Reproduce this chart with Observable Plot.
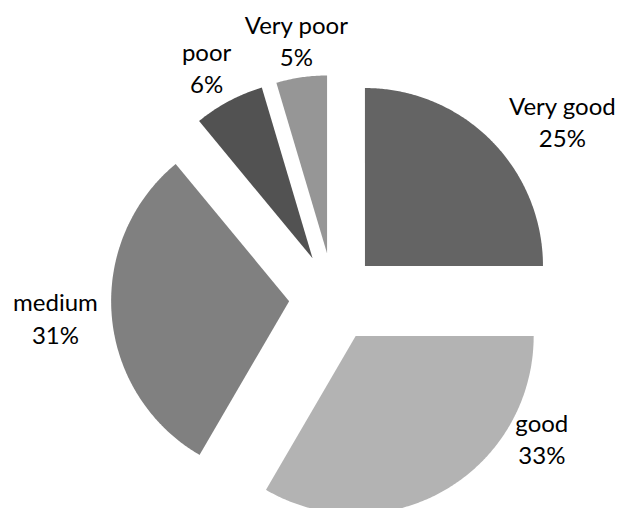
<!DOCTYPE html>
<html>
<head>
<meta charset="utf-8">
<script src="https://cdn.jsdelivr.net/npm/d3@7"></script>
<script src="https://cdn.jsdelivr.net/npm/@observablehq/plot@0.6"></script>
<style>
  html, body { margin: 0; padding: 0; background: #fff; }
</style>
</head>
<body>
<div id="chart"></div>
<script>
// ---- data ----
const categories = ["Very good", "good", "medium", "poor", "Very poor"];
const shares = [25, 33.4, 30.6, 6.4, 4.6];   // percent of total
const colors = ["#646464", "#b3b3b3", "#808080", "#525252", "#969696"];

// ---- layout (not data) ----
const W = 618, H = 508, R = 178;       // pixels per unit radius
const CX = 333, CY = 297;              // pie centre in px
const EXPLODE = 0.25;                  // explode distance, in radii
// label anchor: [angle deg clockwise from top, distance in radii]
const labelPolar = [[52.3, 1.625], [123.9, 1.41], [266, 1.566], [331.2, 1.48], [351.8, 1.464]];

const total = d3.sum(shares);
const toRad = Math.PI / 180;
let acc = 0;
const slices = categories.map((name, i) => {
  const a0 = acc / total * 360;
  acc += shares[i];
  const a1 = acc / total * 360;
  return {name, i, a0, a1, mid: (a0 + a1) / 2};
});

const pts = [];
for (const s of slices) {
  const ox = EXPLODE * Math.sin(s.mid * toRad), oy = EXPLODE * Math.cos(s.mid * toRad);
  pts.push({name: s.name, x: ox, y: oy});
  const n = Math.max(4, Math.ceil((s.a1 - s.a0) / 0.5));
  for (let k = 0; k <= n; k++) {
    const a = (s.a0 + (s.a1 - s.a0) * k / n) * toRad;
    pts.push({name: s.name, x: ox + Math.sin(a), y: oy + Math.cos(a)});
  }
}

const labels = slices.map((s, i) => {
  const [ang, dist] = labelPolar[i];
  return {
    name: s.name,
    x: dist * Math.sin(ang * toRad),
    y: dist * Math.cos(ang * toRad),
    text: `${s.name}\n${Math.round(shares[i])}%`
  };
});

const chart = Plot.plot({
  width: W,
  height: H,
  margin: 0,
  x: {domain: [-CX / R, (W - CX) / R], range: [0, W], axis: null},
  y: {domain: [-(H - CY) / R, CY / R], range: [H, 0], axis: null},
  color: {domain: categories, range: colors},
  style: {background: "#fff"},
  marks: [
    Plot.line(pts, {x: "x", y: "y", z: "name", fill: "name", stroke: "none", curve: "linear-closed"}),
    Plot.text(labels, {
      x: "x", y: "y", text: "text",
      fontSize: 24, lineHeight: 1.36,
      fontFamily: "Lato, 'Open Sans', sans-serif",
      fill: "#000", textAnchor: "middle", lineAnchor: "middle"
    })
  ]
});
document.getElementById("chart").appendChild(chart);
</script>
</body>
</html>
